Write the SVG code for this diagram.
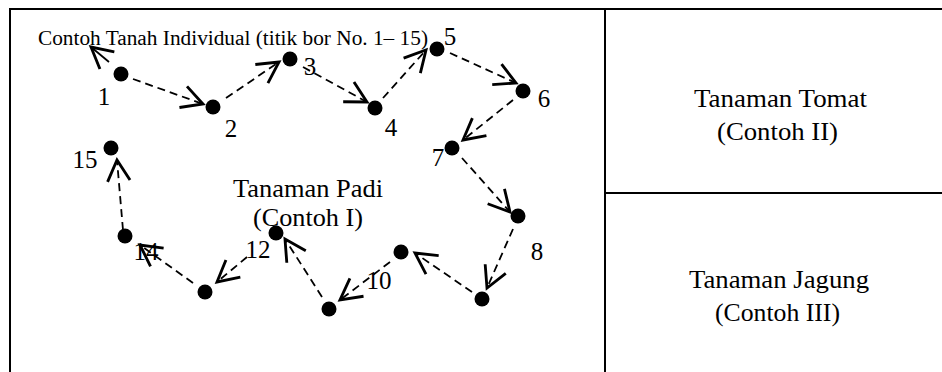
<svg xmlns="http://www.w3.org/2000/svg" width="942" height="372" viewBox="0 0 942 372">
<style>
.frame{stroke:#000;stroke-width:2;fill:none}
.t{font-family:"Liberation Serif","Times New Roman",serif;fill:#000}
.lbl{font-size:25px;text-anchor:middle}
.big{font-size:25px}
.ttl{font-size:20.5px}
.dot{fill:#000}
.c{stroke:#000;stroke-width:1.8;fill:none;stroke-dasharray:8 5;marker-end:url(#ah)}
.s{stroke:#000;stroke-width:1.8;fill:none;marker-end:url(#ah)}
</style>
<defs>
<marker id="ah" markerUnits="userSpaceOnUse" markerWidth="30" markerHeight="30" refX="0" refY="0" viewBox="-16 -10 20 20" orient="auto" overflow="visible">
<path d="M-14,-7.5 L0,0 L-14,7.5" fill="none" stroke="#000" stroke-width="1.9" stroke-dasharray="none"/>
</marker>
</defs>
<rect width="942" height="372" fill="#fff"/>
<g id="frame">
<path class="frame" d="M10,380 V9 H943"/>
<path class="frame" d="M605,9 V380"/>
<path class="frame" d="M605,193 H943"/>
</g>
<g id="connectors">
<path class="s" d="M109,62 L91,47"/>
<path class="c" d="M133,79 L203,104"/>
<path class="c" d="M226,98 L279,62"/>
<path class="c" d="M303,67 L367,102"/>
<path class="c" d="M383,98 L426,50"/>
<path class="c" d="M450,53 L516,83"/>
<path class="c" d="M513,100 L463,140"/>
<path class="c" d="M462,158 L510,212"/>
<path class="c" d="M513,229 L487,288"/>
<path class="c" d="M472,292 L415,253"/>
<path class="c" d="M390,262 L340,300"/>
<path class="c" d="M322,297 L285,239"/>
<path class="c" d="M247,257 L217,282"/>
<path class="c" d="M193,283 L140,245"/>
<path class="c" d="M123,230 L117,160"/>
</g>
<g id="title"><text class="t ttl" x="38" y="45" textLength="390" lengthAdjust="spacingAndGlyphs">Contoh Tanah Individual (titik bor No. 1– 15)</text></g>
<g id="n1"><circle class="dot" cx="121" cy="74" r="7.5"/><text class="t lbl" x="104" y="105">1</text></g>
<g id="n2"><circle class="dot" cx="213" cy="107" r="7.5"/><text class="t lbl" x="231" y="137">2</text></g>
<g id="n3"><circle class="dot" cx="290" cy="59" r="7.5"/><text class="t lbl" x="310" y="75">3</text></g>
<g id="n4"><circle class="dot" cx="375" cy="108" r="7.5"/><text class="t lbl" x="391" y="136">4</text></g>
<g id="n5"><circle class="dot" cx="437" cy="49" r="7.5"/><text class="t lbl" x="450" y="45">5</text></g>
<g id="n6"><circle class="dot" cx="523" cy="91" r="7.5"/><text class="t lbl" x="544" y="107">6</text></g>
<g id="n7"><circle class="dot" cx="452" cy="148" r="7.5"/><text class="t lbl" x="438" y="166">7</text></g>
<g id="n8"><circle class="dot" cx="518" cy="216" r="7.5"/><text class="t lbl" x="537" y="260">8</text></g>
<g id="n9"><circle class="dot" cx="482" cy="299" r="7.5"/></g>
<g id="n10"><circle class="dot" cx="401" cy="252" r="7.5"/><text class="t lbl" x="379" y="289">10</text></g>
<g id="n11"><circle class="dot" cx="329" cy="309" r="7.5"/></g>
<g id="n12"><circle class="dot" cx="276" cy="233" r="7.5"/><text class="t lbl" x="258" y="258">12</text></g>
<g id="n13"><circle class="dot" cx="205" cy="292" r="7.5"/></g>
<g id="n14"><circle class="dot" cx="125" cy="236" r="7.5"/><text class="t lbl" x="146" y="260">14</text></g>
<g id="n15"><circle class="dot" cx="111" cy="148" r="7.5"/><text class="t lbl" x="85" y="168">15</text></g>
<g id="padi">
<text class="t big" x="233" y="197" textLength="150" lengthAdjust="spacingAndGlyphs">Tanaman Padi</text>
<text class="t big" x="253" y="226" textLength="110" lengthAdjust="spacingAndGlyphs">(Contoh I)</text>
</g>
<g id="tomat">
<text class="t big" x="694" y="107" textLength="173" lengthAdjust="spacingAndGlyphs">Tanaman Tomat</text>
<text class="t big" x="717" y="140" textLength="121" lengthAdjust="spacingAndGlyphs">(Contoh II)</text>
</g>
<g id="jagung">
<text class="t big" x="689" y="288" textLength="180" lengthAdjust="spacingAndGlyphs">Tanaman Jagung</text>
<text class="t big" x="715" y="321" textLength="125" lengthAdjust="spacingAndGlyphs">(Contoh III)</text>
</g>
</svg>
